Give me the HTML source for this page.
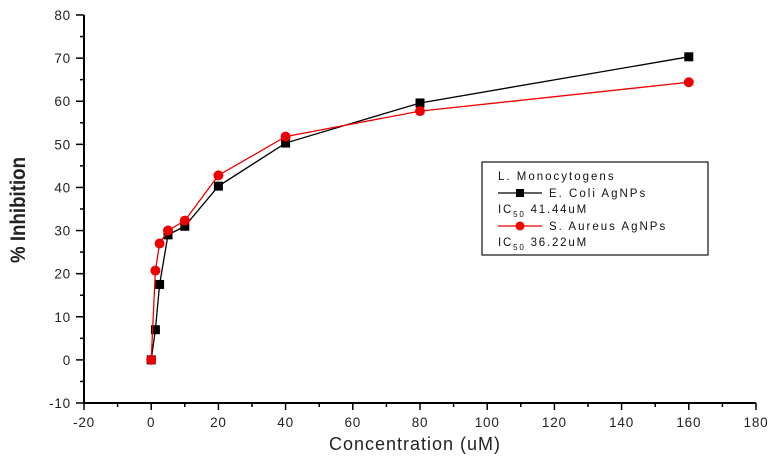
<!DOCTYPE html>
<html><head><meta charset="utf-8"><style>
html,body{margin:0;padding:0;background:#fff;}
svg{display:block;font-family:"Liberation Sans",sans-serif;}
</style></head><body>
<svg id="chart" width="768" height="462" viewBox="0 0 768 462">
<g id="axes"></g>
<g id="series"></g>
<text x="415" y="450" font-size="18" text-anchor="middle" fill="#222" letter-spacing="1">Concentration (uM)</text>
<text transform="translate(25,210) rotate(-90)" font-size="21" font-weight="bold" text-anchor="middle" fill="#222" textLength="106" lengthAdjust="spacingAndGlyphs">% Inhibition</text>
<g>
<rect x="482" y="162" width="226" height="93" fill="#fff" stroke="#111" stroke-width="1.2"/>
<text x="498" y="180" font-size="11.5" letter-spacing="2" fill="#111">L. Monocytogens</text>
<line x1="498" y1="193" x2="542" y2="193" stroke="#000" stroke-width="1.2"/>
<rect x="516" y="189" width="8" height="8" fill="#000"/>
<text x="549" y="197" font-size="11.5" letter-spacing="2" fill="#111">E. Coli AgNPs</text>
<text x="498" y="213" font-size="11.5" letter-spacing="1.8" fill="#111">IC<tspan font-size="8" dy="4">50</tspan><tspan dy="-4"> 41.44uM</tspan></text>
<line x1="498" y1="226" x2="542" y2="226" stroke="#e00" stroke-width="1.2"/>
<circle cx="520" cy="226" r="4.5" fill="#e00"/>
<text x="549" y="230" font-size="11.5" letter-spacing="2" fill="#111">S. Aureus AgNPs</text>
<text x="498" y="246" font-size="11.5" letter-spacing="1.8" fill="#111">IC<tspan font-size="8" dy="4">50</tspan><tspan dy="-4"> 36.22uM</tspan></text>
</g>
</svg>
<script>
const concentrations = [0, 1.25, 2.5, 5, 10, 20, 40, 80, 160];
const ecoliValues = [0, 7, 17.5, 29, 31, 40.3, 50.3, 59.6, 70.3];
const saureusValues = [0, 20.7, 27, 30, 32.3, 42.8, 51.8, 57.7, 64.4];
const xTicks = [-20, 0, 20, 40, 60, 80, 100, 120, 140, 160, 180];
const yTicks = [-10, 0, 10, 20, 30, 40, 50, 60, 70, 80];

const NS = "http://www.w3.org/2000/svg";
const X0 = 84, X1 = 756, Y0 = 403, Y1 = 15;
function xs(v){ return X0 + (v + 20) / 200 * (X1 - X0); }
function ys(v){ return Y0 - (v + 10) / 90 * (Y0 - Y1); }
function mk(tag, attrs, parent){ const e = document.createElementNS(NS, tag); for (const k in attrs) e.setAttribute(k, attrs[k]); parent.appendChild(e); return e; }

const axes = document.getElementById("axes");
const xAxis = mk("line", {x1: X0, y1: Y0, x2: X1, y2: Y0, stroke: "#000", "stroke-width": 2}, axes);


const yAxis = mk("line", {x1: X0, y1: Y0, x2: X0, y2: Y1, stroke: "#000", "stroke-width": 2}, axes);



for (let v = -20; v <= 180; v += 10) {
  const major = v % 20 === 0;
  mk("line", {x1: xs(v), y1: Y0, x2: xs(v), y2: Y0 + (major ? 7 : 4), stroke: "#000", "stroke-width": 1.5}, axes);
}
xTicks.forEach(v => {
  const t = mk("text", {x: xs(v), y: Y0 + 24, "font-size": 13.5, "letter-spacing": 0.8, "text-anchor": "middle", fill: "#222"}, axes);
  t.textContent = v;
  
  
});
for (let v = -10; v <= 80; v += 5) {
  const major = v % 10 === 0;
  mk("line", {x1: X0, y1: ys(v), x2: X0 - (major ? 8 : 4), y2: ys(v), stroke: "#000", "stroke-width": 1.5}, axes);
}
yTicks.forEach(v => {
  const t = mk("text", {x: X0 - 13, y: ys(v) + 5, "font-size": 13.5, "letter-spacing": 0.8, "text-anchor": "end", fill: "#222"}, axes);
  t.textContent = v;
  
  
});

const series = document.getElementById("series");
function drawSeries(vals, color, shape, name) {
  const pts = concentrations.map((c, i) => xs(c) + "," + ys(vals[i])).join(" ");
  const pl = mk("polyline", {points: pts, fill: "none", stroke: color, "stroke-width": 1.3}, series);
  
  
  concentrations.forEach((c, i) => {
    let m;
    if (shape === "square") m = mk("rect", {x: xs(c) - 4.5, y: ys(vals[i]) - 4.5, width: 9, height: 9, fill: color}, series);
    else m = mk("circle", {cx: xs(c), cy: ys(vals[i]), r: 5, fill: color}, series);
    
    
  });
}
drawSeries(ecoliValues, "#000", "square", "ecoli");
drawSeries(saureusValues, "#e00", "circle", "saureus");
</script>
</body></html>
